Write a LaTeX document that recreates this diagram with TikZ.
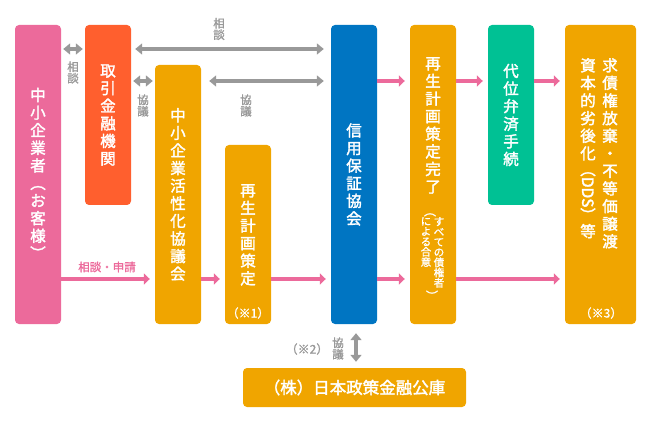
\documentclass[tikz,border=0pt]{standalone}
\usepackage{fontspec}
\usepackage{graphicx}
\setmainfont{Noto Sans CJK JP}
\newfontfamily\jpb{Noto Sans CJK JP}[FakeBold=2]
\newfontfamily\jpm{Noto Sans CJK JP}[FakeBold=1.2]
\usetikzlibrary{arrows.meta}
\definecolor{cpink}{HTML}{EC6A9B}
\definecolor{cred}{HTML}{FF5F2E}
\definecolor{corange}{HTML}{F0A500}
\definecolor{cblue}{HTML}{0075C2}
\definecolor{cgreen}{HTML}{00C194}
\definecolor{cgray}{HTML}{999999}
\newcommand\vparo{\rotatebox[origin=c]{-90}{（}}
\newcommand\vparc{\rotatebox[origin=c]{-90}{）}}
\begin{document}
\begin{tikzpicture}[x=1pt,y=-1pt,
  box/.style={rounded corners=4pt, inner sep=0pt, text=white, align=center,
    minimum width=46pt, font=\jpb\fontsize{15.5}{17.6}\selectfont},
  vt/.style={inner sep=0pt, text=white, align=center, font=\jpb\fontsize{15.5}{17.6}\selectfont},
  small/.style={inner sep=0pt, text=white, align=center, font=\jpm\fontsize{10.5}{10.2}\selectfont},
  glabel/.style={inner sep=0pt, text=cgray, align=center, font=\jpm\fontsize{11.5}{11.5}\selectfont},
  garrow/.style={draw=cgray, line width=4.5pt, {Triangle[length=7pt,width=11pt]}-{Triangle[length=7pt,width=11pt]}},
  parrow/.style={draw=cpink, line width=4.5pt, -{Triangle[length=6pt,width=11pt]}}
]
\useasboundingbox (0,0) rectangle (650,430);
% boxes
\node[box, fill=cpink, minimum height=299pt] (b1) at (38,174.5)
  {中\\小\\企\\業\\者\\\vparo\\お\\客\\様\\\vparc};
\node[box, fill=cred, minimum height=180pt] (b2) at (108,115)
  {取\\引\\金\\融\\機\\関};
\node[box, fill=corange, minimum height=259pt] (b3) at (178,194.5)
  {中\\小\\企\\業\\活\\性\\化\\協\\議\\会};
\node[box, fill=corange, minimum height=179pt] (b4) at (248,234.5) {};
\node[box, fill=cblue, minimum height=299pt] (b5) at (354,174.5)
  {信\\用\\保\\証\\協\\会};
\node[box, fill=corange, minimum height=299pt] (b6) at (433,174.5) {};
\node[box, fill=cgreen, minimum height=180pt] (b7) at (511,115)
  {代\\位\\弁\\済\\手\\続};
\node[box, fill=corange, minimum width=71pt, minimum height=299pt] (b8) at (600.5,174.5) {};
\node[box, fill=corange, minimum width=223pt, minimum height=39pt,
  font=\jpb\fontsize{16.5}{18}\selectfont] (jfc) at (354.5,387.5) {（株）日本政策金融公庫};
% texts in boxes
\node[vt, anchor=north] (t4) at (248,184) {再\\生\\計\\画\\策\\定};
\node[small, font=\jpm\fontsize{12}{12}\selectfont] (n1) at (248,313) {（※1）};
\node[vt, anchor=north] (t6) at (433,57) {再\\生\\計\\画\\策\\定\\完\\了};
\node[small, font=\jpm\fontsize{12}{12}\selectfont] (p6a) at (430,211) {\vparo};
\node[small, anchor=north] (t6r) at (439,217) {す\\べ\\て\\の\\債\\権\\者};
\node[small, anchor=north] (t6l) at (426,217) {に\\よ\\る\\合\\意};
\node[small, font=\jpm\fontsize{12}{12}\selectfont] (p6b) at (432,296) {\vparc};
\node[vt, anchor=north] (t8r) at (610,58) {求\\債\\権\\放\\棄\\・\\不\\等\\価\\譲\\渡};
\node[vt, anchor=north] (t8l) at (588,58) {資\\本\\的\\劣\\後\\化\\\rotatebox[origin=c]{-90}{（DDS）}\\等};
\node[small, font=\jpm\fontsize{12}{12}\selectfont] (n3) at (601,313) {（※3）};
% helper rows
\coordinate (r49) at (0,49);
\coordinate (r81) at (0,81);
\coordinate (r279) at (0,279);
% gray double arrows
\draw[garrow] ([xshift=2pt]b1.east |- r49) -- ([xshift=-2pt]b2.west |- r49);
\draw[garrow] ([xshift=4pt]b2.east |- r49) -- ([xshift=-7pt]b5.west |- r49);
\draw[garrow] ([xshift=2pt]b2.east |- r81) -- ([xshift=-2pt]b3.west |- r81);
\draw[garrow] ([xshift=8pt]b3.east |- r81) -- ([xshift=-7pt]b5.west |- r81);
\draw[garrow] ([xshift=2pt,yshift=-9pt]b5.south) -- ([xshift=2pt,yshift=6pt]jfc.north -| b5.south);
% gray labels
\node[glabel] (l1) at (73,72.5) {相\\談};
\node[glabel] (l2) at (219,29) {相\\談};
\node[glabel] (l3) at (143,105.5) {協\\議};
\node[glabel] (l4) at (246,105.5) {協\\議};
\node[glabel] (l5) at (338,348.5) {協\\議};
\node[glabel, font=\jpm\fontsize{12}{12}\selectfont] (l6) at (307,349) {（※2）};
% pink arrows
\draw[parrow] (b1.east |- r279) -- ([xshift=-5pt]b3.west |- r279);
\draw[parrow] (b3.east |- r279) -- ([xshift=-5pt]b4.west |- r279);
\draw[parrow] (b4.east |- r279) -- ([xshift=-5pt]b5.west |- r279);
\draw[parrow] (b5.east |- r81) -- ([xshift=-5pt]b6.west |- r81);
\draw[parrow] (b5.east |- r279) -- ([xshift=-5pt]b6.west |- r279);
\draw[parrow] (b6.east |- r81) -- ([xshift=-5pt]b7.west |- r81);
\draw[parrow] (b7.east |- r81) -- ([xshift=-5pt]b8.west |- r81);
\draw[parrow] (b6.east |- r279) -- ([xshift=-5pt]b8.west |- r279);
\node[inner sep=0pt, text=cpink, font=\jpm\fontsize{11.5}{12}\selectfont] (l7) at (107,267) {相談・申請};
\end{tikzpicture}
\end{document}
